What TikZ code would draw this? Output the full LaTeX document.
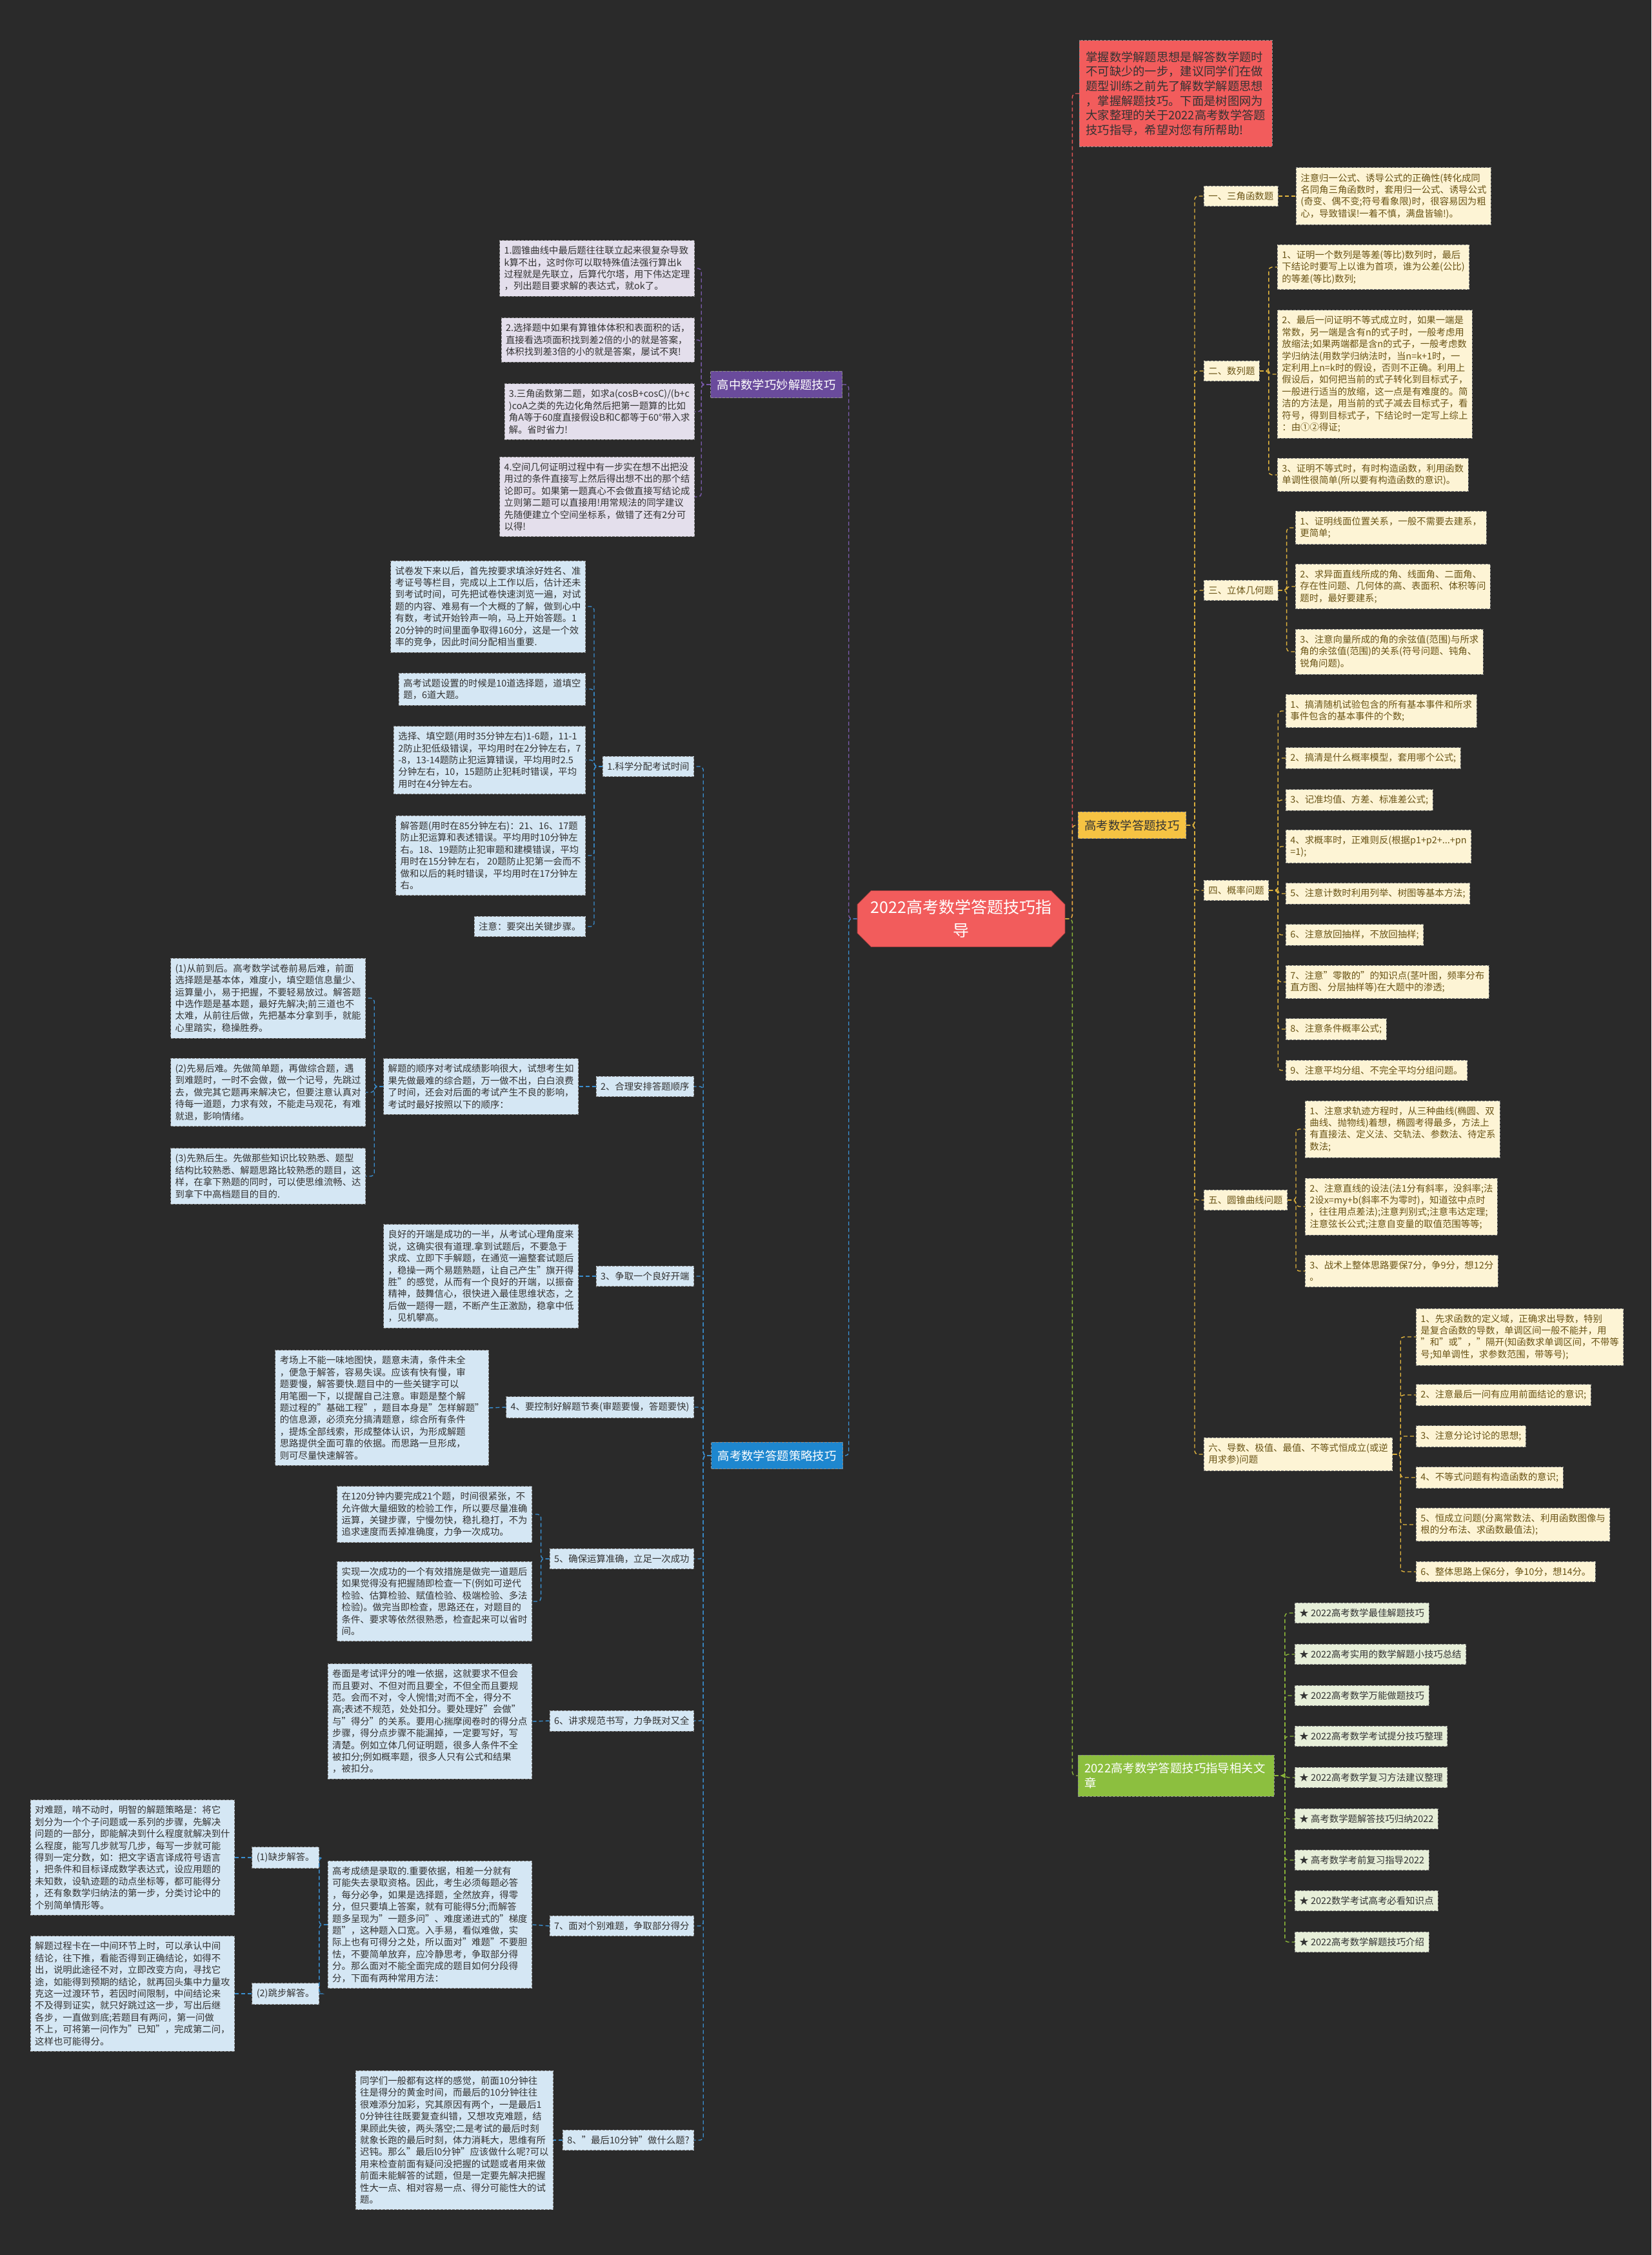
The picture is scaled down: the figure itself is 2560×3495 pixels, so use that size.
\documentclass[tikz,border=0pt]{standalone}
\usepackage{fontspec}
\setmainfont{Noto Sans CJK SC}
\usepackage{tikz}
\usetikzlibrary{shapes.misc}

\definecolor{bgc}{HTML}{2A2A2A}
\definecolor{redA}{HTML}{F25C5C}
\definecolor{yelA}{HTML}{F6C343}
\definecolor{grnA}{HTML}{8CBF3F}
\definecolor{purA}{HTML}{6A4B9C}
\definecolor{bluA}{HTML}{1E87CF}
\definecolor{yelL}{HTML}{FDF4D5}
\definecolor{purL}{HTML}{E4DFEC}
\definecolor{bluL}{HTML}{D5E7F4}
\definecolor{grnL}{HTML}{E7EFD9}
\definecolor{yelT}{HTML}{6A5416}
\definecolor{txtD}{HTML}{333333}
\definecolor{conR}{HTML}{E05555}
\definecolor{conY}{HTML}{E2B53E}
\definecolor{conG}{HTML}{8DB83A}
\definecolor{conP}{HTML}{7B5BAE}
\definecolor{conB}{HTML}{3A8FD0}

\begin{document}
\begin{tikzpicture}[x=0.5pt,y=-0.5pt,
  box/.style={draw=black!50,dashed,dash pattern=on 2pt off 1pt,line width=0.4pt,
    inner xsep=3.5pt,inner ysep=4.5pt,align=left,
    font=\fontsize{7.2}{9.2}\selectfont},
  leafY/.style={box,fill=yelL,text=yelT},
  leafP/.style={box,fill=purL,text=txtD},
  leafB/.style={box,fill=bluL,text=txtD},
  leafG/.style={box,fill=grnL,text=txtD},
  branch/.style={draw=black!45,dashed,dash pattern=on 2pt off 1pt,line width=0.4pt,
    inner xsep=5pt,inner ysep=6pt,align=left,text=white,
    font=\fontsize{9.2}{11.5}\selectfont},
  link/.style={dash pattern=on 3pt off 2pt,line width=0.7pt,rounded corners=2.5pt}]
\fill[bgc] (0,0) rectangle (2560,3495);
\useasboundingbox (0,0) rectangle (2560,3495);

% centre and main branches
\node[chamfered rectangle,chamfered rectangle xsep=7pt,draw=redA!70!black,
  fill=redA,text=white,align=center,minimum width=158pt,minimum height=42.5pt,
  font=\fontsize{12.5}{18}\selectfont] (ctr) at (1490,1424)
  {2022高考数学答题技巧指\\导};
\node[branch,fill=redA,text=txtD,inner xsep=5pt,inner ysep=8.5pt,
  font=\fontsize{9.15}{11.35}\selectfont,anchor=west] (intro) at (1673,145)
  {掌握数学解题思想是解答数学题时\\不可缺少的一步，建议同学们在做\\题型训练之前先了解数学解题思想\\，掌握解题技巧。下面是树图网为\\大家整理的关于2022高考数学答题\\技巧指导，希望对您有所帮助!};
\node[branch,fill=yelA,text=txtD,anchor=west] (yel) at (1671,1279) {高考数学答题技巧};
\node[branch,fill=grnA,anchor=west,text width=142pt] (rel) at (1671,2752)
  {2022高考数学答题技巧指导相关文\\章};
\node[branch,fill=purA,anchor=east] (pur) at (1306,596) {高中数学巧妙解题技巧};
\node[branch,fill=bluA,anchor=east] (blu) at (1307,2256) {高考数学答题策略技巧};
\draw[link,conR] (ctr.east) -- ++(11,0) |- (intro.west);
\draw[link,conG] (ctr.east) -- ++(11,0) |- (rel.west);
\draw[link,conY] (ctr.east) -- ++(11,0) |- (yel.west);
\draw[link,conP] (ctr.west) -- ++(-13,0) |- (pur.east);
\draw[link,conB] (ctr.west) -- ++(-13,0) |- (blu.east);

% right: answering tips
\node[leafY,anchor=west] (s1) at (1866,304) {一、三角函数题};
\node[leafY,anchor=west] (s2) at (1866,575) {二、数列题};
\node[leafY,anchor=west] (s3) at (1866,915) {三、立体几何题};
\node[leafY,anchor=west] (s4) at (1866,1380) {四、概率问题};
\node[leafY,anchor=west] (s5) at (1866,1860) {五、圆锥曲线问题};
\node[leafY,anchor=west] (s6) at (1866,2254) {六、导数、极值、最值、不等式恒成立(或逆\\用求参)问题};
\foreach \s in {s1,s2,s3,s4,s5,s6}{
  \draw[link,conY] (yel.east) -- ++(13,0) |- (\s.west);
}
\node[leafY,anchor=west] (t1) at (2009,304)
  {注意归一公式、诱导公式的正确性(转化成同\\名同角三角函数时，套用归一公式、诱导公式\\(奇变、偶不变;符号看象限)时，很容易因为粗\\心，导致错误!一着不慎，满盘皆输!)。};
\draw[link,conY] (s1.east) -- (t1.west);
\node[leafY,anchor=west] (t21) at (1980,414)
  {1、证明一个数列是等差(等比)数列时，最后\\下结论时要写上以谁为首项，谁为公差(公比)\\的等差(等比)数列;};
\node[leafY,anchor=west] (t22) at (1980,580)
  {2、最后一问证明不等式成立时，如果一端是\\常数，另一端是含有n的式子时，一般考虑用\\放缩法;如果两端都是含n的式子，一般考虑数\\学归纳法(用数学归纳法时，当n=k+1时，一\\定利用上n=k时的假设，否则不正确。利用上\\假设后，如何把当前的式子转化到目标式子，\\一般进行适当的放缩，这一点是有难度的。简\\洁的方法是，用当前的式子减去目标式子，看\\符号，得到目标式子，下结论时一定写上综上\\：由①②得证;};
\node[leafY,anchor=west] (t23) at (1980,736)
  {3、证明不等式时，有时构造函数，利用函数\\单调性很简单(所以要有构造函数的意识)。};
\foreach \t in {t21,t22,t23}{
  \draw[link,conY] (s2.east) -- ++(14,0) |- (\t.west);
}
\node[leafY,anchor=west] (t31) at (2008,818)
  {1、证明线面位置关系，一般不需要去建系，\\更简单;};
\node[leafY,anchor=west] (t32) at (2008,909)
  {2、求异面直线所成的角、线面角、二面角、\\存在性问题、几何体的高、表面积、体积等问\\题时，最好要建系;};
\node[leafY,anchor=west] (t33) at (2008,1010)
  {3、注意向量所成的角的余弦值(范围)与所求\\角的余弦值(范围)的关系(符号问题、钝角、\\锐角问题)。};
\foreach \t in {t31,t32,t33}{
  \draw[link,conY] (s3.east) -- ++(13,0) |- (\t.west);
}
\foreach \i/\yy/\txt in {1/1102/{1、搞清随机试验包含的所有基本事件和所求\\事件包含的基本事件的个数;},
  2/1175/{2、搞清是什么概率模型，套用哪个公式;},
  3/1240/{3、记准均值、方差、标准差公式;},
  4/1312/{4、求概率时，正难则反(根据p1+p2+...+pn\\=1);},
  5/1385/{5、注意计数时利用列举、树图等基本方法;},
  6/1449/{6、注意放回抽样，不放回抽样;},
  7/1522/{7、注意"零散的"的知识点(茎叶图，频率分布\\直方图、分层抽样等)在大题中的渗透;},
  8/1595/{8、注意条件概率公式;},
  9/1659/{9、注意平均分组、不完全平均分组问题。}}{
  \node[leafY,anchor=west] (t4\i) at (1993,\yy) {\txt};
  \draw[link,conY] (s4.east) -- ++(14,0) |- (t4\i.west);
}
\node[leafY,anchor=west] (t51) at (2023,1750)
  {1、注意求轨迹方程时，从三种曲线(椭圆、双\\曲线、抛物线)着想，椭圆考得最多，方法上\\有直接法、定义法、交轨法、参数法、待定系\\数法;};
\node[leafY,anchor=west] (t52) at (2023,1870)
  {2、注意直线的设法(法1分有斜率，没斜率;法\\2设x=my+b(斜率不为零时)，知道弦中点时\\，往往用点差法);注意判别式;注意韦达定理;\\注意弦长公式;注意自变量的取值范围等等;};
\node[leafY,anchor=west] (t53) at (2023,1970)
  {3、战术上整体思路要保7分，争9分，想12分\\。};
\foreach \t in {t51,t52,t53}{
  \draw[link,conY] (s5.east) -- ++(13,0) |- (\t.west);
}
\foreach \i/\yy/\txt in {1/2072/{1、先求函数的定义域，正确求出导数，特别\\是复合函数的导数，单调区间一般不能并，用\\"和"或"，"隔开(知函数求单调区间，不带等\\号;知单调性，求参数范围，带等号);},
  2/2162/{2、注意最后一问有应用前面结论的意识;},
  3/2226/{3、注意分论讨论的思想;},
  4/2290/{4、不等式问题有构造函数的意识;},
  5/2363/{5、恒成立问题(分离常数法、利用函数图像与\\根的分布法、求函数最值法);},
  6/2436/{6、整体思路上保6分，争10分，想14分。}}{
  \node[leafY,anchor=west] (t6\i) at (2195,\yy) {\txt};
  \draw[link,conY] (s6.east) -- ++(12,0) |- (t6\i.west);
}

% right: related articles
\foreach \i/\yy/\txt in {1/2500/{★ 2022高考数学最佳解题技巧},
  2/2564/{★ 2022高考实用的数学解题小技巧总结},
  3/2628/{★ 2022高考数学万能做题技巧},
  4/2691/{★ 2022高考数学考试提分技巧整理},
  5/2755/{★ 2022高考数学复习方法建议整理},
  6/2819/{★ 高考数学题解答技巧归纳2022},
  7/2883/{★ 高考数学考前复习指导2022},
  8/2946/{★ 2022数学考试高考必看知识点},
  9/3010/{★ 2022高考数学解题技巧介绍}}{
  \node[leafG,anchor=west] (g\i) at (2007,\yy) {\txt};
  \draw[link,conG] (rel.east) -- ++(16,0) |- (g\i.west);
}

% left: clever tricks
\node[leafP,anchor=east] (p1) at (1077,416)
  {1.圆锥曲线中最后题往往联立起来很复杂导致\\k算不出，这时你可以取特殊值法强行算出k\\过程就是先联立，后算代尔塔，用下伟达定理\\，列出题目要求解的表达式，就ok了。};
\node[leafP,anchor=east] (p2) at (1077,527)
  {2.选择题中如果有算锥体体积和表面积的话，\\直接看选项面积找到差2倍的小的就是答案，\\体积找到差3倍的小的就是答案，屡试不爽!};
\node[leafP,anchor=east] (p3) at (1077,638)
  {3.三角函数第二题，如求a(cosB+cosC)/(b+c\\)coA之类的先边化角然后把第一题算的比如\\角A等于60度直接假设B和C都等于60°带入求\\解。省时省力!};
\node[leafP,anchor=east] (p4) at (1077,770)
  {4.空间几何证明过程中有一步实在想不出把没\\用过的条件直接写上然后得出想不出的那个结\\论即可。如果第一题真心不会做直接写结论成\\立则第二题可以直接用!用常规法的同学建议\\先随便建立个空间坐标系，做错了还有2分可\\以得!};
\foreach \p in {p1,p2,p3,p4}{
  \draw[link,conP] (pur.west) -- ++(-14,0) |- (\p.east);
}

% left: strategy
\node[leafB,anchor=east] (b1) at (1076,1188) {1.科学分配考试时间};
\node[leafB,anchor=east] (b2) at (1076,1684) {2、合理安排答题顺序};
\node[leafB,anchor=east] (b3) at (1076,1978) {3、争取一个良好开端};
\node[leafB,anchor=east] (b4) at (1076,2181) {4、要控制好解题节奏(审题要慢，答题要快)};
\node[leafB,anchor=east] (b5) at (1076,2416) {5、确保运算准确，立足一次成功};
\node[leafB,anchor=east] (b6) at (1076,2667) {6、讲求规范书写，力争既对又全};
\node[leafB,anchor=east] (b7) at (1076,2985) {7、面对个别难题，争取部分得分};
\node[leafB,anchor=east] (b8) at (1076,3317) {8、"最后10分钟"做什么题?};
\foreach \b in {b1,b2,b3,b4,b5,b6,b7,b8}{
  \draw[link,conB] (blu.west) -- ++(-12,0) |- (\b.east);
}
\node[leafB,anchor=east] (a1) at (908,940)
  {试卷发下来以后，首先按要求填涂好姓名、准\\考证号等栏目，完成以上工作以后，估计还未\\到考试时间，可先把试卷快速浏览一遍，对试\\题的内容、难易有一个大概的了解，做到心中\\有数，考试开始铃声一响，马上开始答题。1\\20分钟的时间里面争取得160分，这是一个效\\率的竞争，因此时间分配相当重要.};
\node[leafB,anchor=east] (a2) at (908,1068)
  {高考试题设置的时候是10道选择题，道填空\\题，6道大题。};
\node[leafB,anchor=east] (a3) at (908,1178)
  {选择、填空题(用时35分钟左右)1-6题，11-1\\2防止犯低级错误，平均用时在2分钟左右，7\\-8，13-14题防止犯运算错误，平均用时2.5\\分钟左右，10，15题防止犯耗时错误，平均\\用时在4分钟左右。};
\node[leafB,anchor=east] (a4) at (908,1326)
  {解答题(用时在85分钟左右)：21、16、17题\\防止犯运算和表述错误。平均用时10分钟左\\右。18、19题防止犯审题和建模错误，平均\\用时在15分钟左右， 20题防止犯第一会而不\\做和以后的耗时错误，平均用时在17分钟左\\右。};
\node[leafB,anchor=east] (a5) at (908,1436) {注意：要突出关键步骤。};
\foreach \a in {a1,a2,a3,a4,a5}{
  \draw[link,conB] (b1.west) -- ++(-13,0) |- (\a.east);
}
\node[leafB,anchor=east] (m2) at (897,1684)
  {解题的顺序对考试成绩影响很大，试想考生如\\果先做最难的综合题，万一做不出，白白浪费\\了时间，还会对后面的考试产生不良的影响，\\考试时最好按照以下的顺序：};
\draw[link,conB] (b2.west) -- (m2.east);
\node[leafB,anchor=east] (c1) at (567,1547)
  {(1)从前到后。高考数学试卷前易后难，前面\\选择题是基本体，难度小，填空题信息量少、\\运算量小，易于把握，不要轻易放过。解答题\\中选作题是基本题，最好先解决;前三道也不\\太难，从前往后做，先把基本分拿到手，就能\\心里踏实，稳操胜券。};
\node[leafB,anchor=east] (c2) at (567,1693)
  {(2)先易后难。先做简单题，再做综合题，遇\\到难题时，一时不会做，做一个记号，先跳过\\去，做完其它题再来解决它，但要注意认真对\\待每一道题，力求有效，不能走马观花，有难\\就退，影响情绪。};
\node[leafB,anchor=east] (c3) at (567,1823)
  {(3)先熟后生。先做那些知识比较熟悉、题型\\结构比较熟悉、解题思路比较熟悉的题目，这\\样，在拿下熟题的同时，可以使思维流畅、达\\到拿下中高档题目的目的.};
\foreach \c in {c1,c2,c3}{
  \draw[link,conB] (m2.west) -- ++(-14,0) |- (\c.east);
}
\node[leafB,anchor=east] (m3) at (897,1978)
  {良好的开端是成功的一半，从考试心理角度来\\说，这确实很有道理.拿到试题后，不要急于\\求成、立即下手解题，在通览一遍整套试题后\\，稳操一两个易题熟题，让自己产生"旗开得\\胜"的感觉，从而有一个良好的开端，以振奋\\精神，鼓舞信心，很快进入最佳思维状态，之\\后做一题得一题，不断产生正激励，稳拿中低\\，见机攀高。};
\draw[link,conB] (b3.west) -- (m3.east);
\node[leafB,anchor=east] (m4) at (758,2182)
  {考场上不能一味地图快，题意未清，条件未全\\，便急于解答，容易失误。应该有快有慢，审\\题要慢，解答要快.题目中的一些关键字可以\\用笔圈一下，以提醒自己注意。审题是整个解\\题过程的"基础工程"，题目本身是"怎样解题"\\的信息源，必须充分搞清题意，综合所有条件\\，提炼全部线索，形成整体认识，为形成解题\\思路提供全面可靠的依据。而思路一旦形成，\\则可尽量快速解答。};
\draw[link,conB] (b4.west) -- (m4.east);
\node[leafB,anchor=east] (m51) at (825,2347)
  {在120分钟内要完成21个题，时间很紧张，不\\允许做大量细致的检验工作，所以要尽量准确\\运算，关键步骤，宁慢勿快，稳扎稳打，不为\\追求速度而丢掉准确度，力争一次成功。};
\node[leafB,anchor=east] (m52) at (825,2482)
  {实现一次成功的一个有效措施是做完一道题后\\如果觉得没有把握随即检查一下(例如可逆代\\检验、估算检验、赋值检验、极端检验、多法\\检验)。做完当即检查，思路还在，对题目的\\条件、要求等依然很熟悉，检查起来可以省时\\间。};
\foreach \m in {m51,m52}{
  \draw[link,conB] (b5.west) -- ++(-13,0) |- (\m.east);
}
\node[leafB,anchor=east] (m6) at (825,2668)
  {卷面是考试评分的唯一依据，这就要求不但会\\而且要对、不但对而且要全，不但全而且要规\\范。会而不对，令人惋惜;对而不全，得分不\\高;表述不规范，处处扣分。要处理好"会做"\\与"得分"的关系。要用心揣摩阅卷时的得分点\\步骤，得分点步骤不能漏掉，一定要写好，写\\清楚。例如立体几何证明题，很多人条件不全\\被扣分;例如概率题，很多人只有公式和结果\\，被扣分。};
\draw[link,conB] (b6.west) -- (m6.east);
\node[leafB,anchor=east] (m7) at (825,2983)
  {高考成绩是录取的.重要依据，相差一分就有\\可能失去录取资格。因此，考生必须每题必答\\，每分必争，如果是选择题，全然放弃，得零\\分，但只要填上答案，就有可能得5分;而解答\\题多呈现为"一题多问"、难度递进式的"梯度\\题"，这种题入口宽。入手易，看似难做，实\\际上也有可得分之处，所以面对"难题"不要胆\\怯，不要简单放弃，应冷静思考，争取部分得\\分。那么面对不能全面完成的题目如何分段得\\分，下面有两种常用方法：};
\draw[link,conB] (b7.west) -- (m7.east);
\node[leafB,anchor=east] (q1) at (495,2879) {(1)缺步解答。};
\node[leafB,anchor=east] (q2) at (495,3090) {(2)跳步解答。};
\foreach \q in {q1,q2}{
  \draw[link,conB] (m7.west) -- ++(-13,0) |- (\q.east);
}
\node[leafB,anchor=east] (r1) at (364,2879)
  {对难题，啃不动时，明智的解题策略是：将它\\划分为一个个子问题或一系列的步骤，先解决\\问题的一部分，即能解决到什么程度就解决到什\\么程度，能写几步就写几步，每写一步就可能\\得到一定分数，如：把文字语言译成符号语言\\，把条件和目标译成数学表达式，设应用题的\\未知数，设轨迹题的动点坐标等，都可能得分\\，还有象数学归纳法的第一步，分类讨论中的\\个别简单情形等。};
\draw[link,conB] (q1.west) -- (r1.east);
\node[leafB,anchor=east] (r2) at (364,3090)
  {解题过程卡在一中间环节上时，可以承认中间\\结论，往下推，看能否得到正确结论，如得不\\出，说明此途径不对，立即改变方向，寻找它\\途，如能得到预期的结论，就再回头集中力量攻\\克这一过渡环节，若因时间限制，中间结论来\\不及得到证实，就只好跳过这一步，写出后继\\各步，一直做到底;若题目有两问，第一问做\\不上，可将第一问作为"已知"，完成第二问，\\这样也可能得分。};
\draw[link,conB] (q2.west) -- (r2.east);
\node[leafB,anchor=east] (m8) at (858,3317)
  {同学们一般都有这样的感觉，前面10分钟往\\往是得分的黄金时间，而最后的10分钟往往\\很难添分加彩，究其原因有两个，一是最后1\\0分钟往往既要复查纠错，又想攻克难题，结\\果顾此失彼，两头落空;二是考试的最后时刻\\就象长跑的最后时刻，体力消耗大，思维有所\\迟钝。那么"最后l0分钟"应该做什么呢?可以\\用来检查前面有疑问没把握的试题或者用来做\\前面未能解答的试题，但是一定要先解决把握\\性大一点、相对容易一点、得分可能性大的试\\题。};
\draw[link,conB] (b8.west) -- (m8.east);
\end{tikzpicture}
\end{document}
